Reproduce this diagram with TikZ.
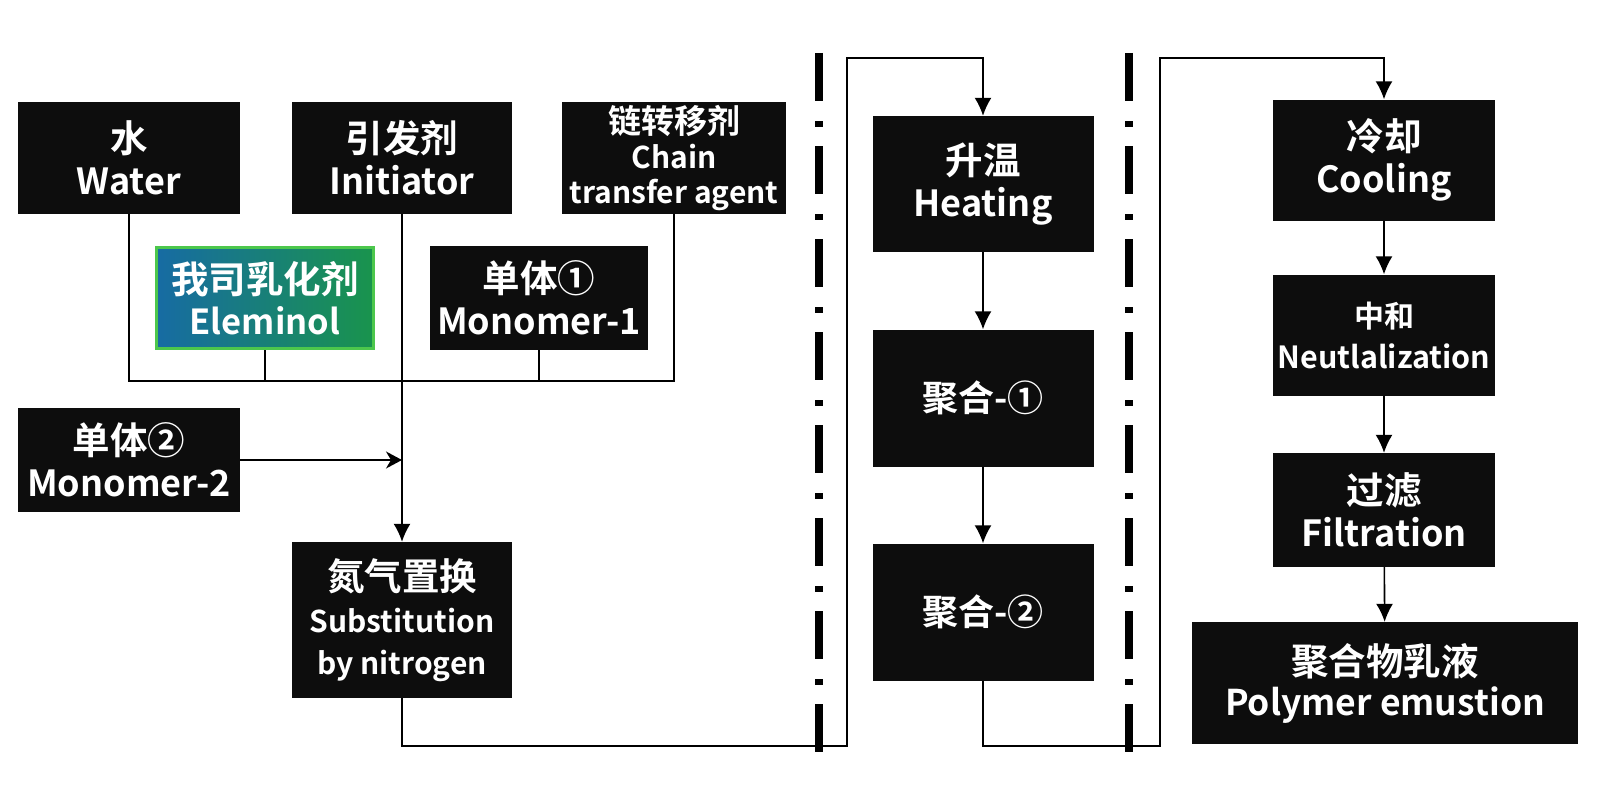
\documentclass[tikz,border=0pt]{standalone}
\usepackage{fontspec}
\setmainfont{Noto Sans CJK SC}[BoldFont={* Bold}]
\usetikzlibrary{arrows.meta}
\newcommand{\zhline}[2][37.5]{{\fontsize{#1}{42}\selectfont #2}}

\begin{document}
\begin{tikzpicture}[x=1pt,y=-1pt,
  box/.style={fill=black!95,text=white,align=center,inner sep=0pt,
    font=\bfseries\fontsize{36}{42}\selectfont},
  flow/.style={line width=1.6pt},
  arr/.style={flow,-{Latex[length=18pt,width=17pt]}},
  sidearr/.style={flow,-{Stealth[length=16pt,width=17pt,inset=5pt]}},
  sep/.style={line width=8pt,dash pattern=on 48pt off 20pt on 6pt off 19pt}]
\path[use as bounding box,fill=white] (0,0) rectangle (1600,800);

% raw materials
\node[box,minimum width=222,minimum height=112] (water) at (129,158) {\zhline{水}\\Water};
\node[box,minimum width=220,minimum height=112] (init) at (402,158) {\zhline{引发剂}\\Initiator};
\node[box,minimum width=224,minimum height=112,font=\bfseries\fontsize{30}{35}\selectfont] (chain) at (674,158) {\zhline[33]{链转移剂}\\Chain\\transfer agent};
\node[box,minimum width=217,minimum height=101,font=\bfseries\fontsize{34.5}{41}\selectfont,left color={rgb,1:red,0.09;green,0.42;blue,0.64},right color={rgb,1:red,0.10;green,0.58;blue,0.30},draw={rgb,1:red,0.30;green,0.78;blue,0.30},line width=3pt] (elem) at (265,298) {\zhline{我司乳化剂}\\Eleminol};
\node[box,minimum width=218,minimum height=104] (mono1) at (539,298) {\zhline{单体①}\\Monomer-1};
\node[box,minimum width=222,minimum height=104] (mono2) at (129,460) {\zhline{单体②}\\Monomer-2};
\node[box,minimum width=220,minimum height=156,font=\bfseries\fontsize{30}{42}\selectfont] (subst) at (402,620) {\zhline{氮气置换}\\Substitution\\by nitrogen};

% reaction
\node[box,minimum width=221,minimum height=136] (heat) at (983,184) {\zhline{升温}\\Heating};
\node[box,minimum width=221,minimum height=137] (poly1) at (983,398) {聚合-①};
\node[box,minimum width=221,minimum height=137] (poly2) at (983,612) {聚合-②};

% after treatment
\node[box,minimum width=222,minimum height=121] (cool) at (1384,160) {\zhline{冷却}\\Cooling};
\node[box,minimum width=222,minimum height=121,font=\bfseries\fontsize{30.5}{41}\selectfont] (neut) at (1384,335) {\zhline[30]{中和}\\Neutlalization};
\node[box,minimum width=222,minimum height=114] (filt) at (1384,510) {\zhline{过滤}\\Filtration};
\node[box,minimum width=386,minimum height=122,font=\bfseries\fontsize{35.5}{40}\selectfont] (emul) at (1385,683) {\zhline{聚合物乳液}\\Polymer emustion};

\coordinate (bus) at (0,381);
\coordinate (low) at (0,746);
\coordinate (pass1) at (847,58);
\coordinate (pass2) at (1160,58);

\draw[flow] (water.south) -- (water.south |- bus) -- (chain.south |- bus) -- (chain.south);
\draw[flow] (elem.south) -- (elem.south |- bus);
\draw[flow] (mono1.south) -- (mono1.south |- bus);
\draw[arr] (init.south) -- (subst.north);
\draw[sidearr] (mono2.east) -- (mono2.east -| init.south);

\draw[arr] (subst.south) |- (pass1 |- low) -- (pass1) -| (heat.north);
\draw[arr] (heat) -- (poly1);
\draw[arr] (poly1) -- (poly2);
\draw[arr] (poly2.south) |- (pass2 |- low) -- (pass2) -| (cool.north);
\draw[arr] (cool) -- (neut);
\draw[arr] (neut) -- (filt);
\draw[arr] (filt) -- (emul);

% stage borders
\draw[sep] (819,53) -- (819,755);
\draw[sep] (1129,53) -- (1129,755);
\end{tikzpicture}
\end{document}
